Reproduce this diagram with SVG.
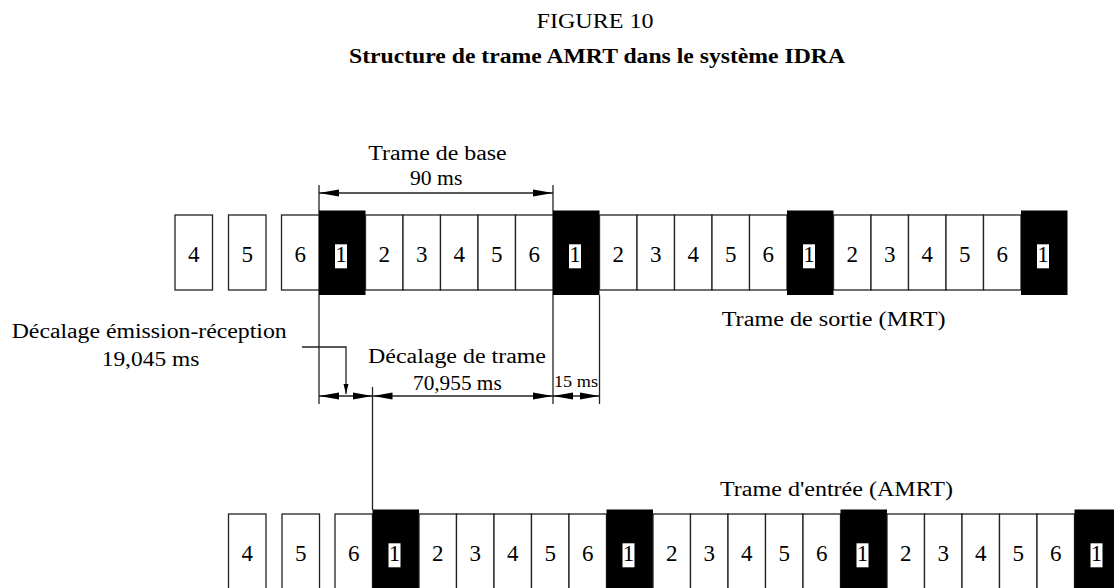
<svg xmlns="http://www.w3.org/2000/svg" width="1114" height="588" viewBox="0 0 1114 588">
  <style>
    .cell { fill: #fff; stroke: #222; stroke-width: 1.3; }
    .slot { fill: #000; }
    .tag { fill: #fff; }
    .num { font-family: "Liberation Serif", "Times New Roman", serif; font-size: 23px; text-anchor: middle; fill: #000; }
    .txt { font-family: "Liberation Serif", "Times New Roman", serif; font-size: 20px; fill: #000; }
    .small { font-size: 16px; }
    .bold { font-weight: bold; }
    .ln { stroke: #222; stroke-width: 1.3; fill: none; }
  </style>
  <defs>
    <marker id="ah" markerUnits="userSpaceOnUse" viewBox="0 0 20 8" markerWidth="20" markerHeight="8" refX="20" refY="4" orient="auto-start-reverse">
      <path d="M0,0.5 L20,4 L0,7.5 z" fill="#000"/>
    </marker>
    <marker id="ahs" markerUnits="userSpaceOnUse" viewBox="0 0 10 6" markerWidth="10" markerHeight="6" refX="10" refY="3" orient="auto">
      <path d="M0,0.5 L10,3 L0,5.5 z" fill="#000"/>
    </marker>
  </defs>
  <rect width="1114" height="588" fill="#fff"/>

  <!-- headings -->
  <text class="txt" x="536.5" y="28" textLength="117" lengthAdjust="spacingAndGlyphs">FIGURE 10</text>
  <text class="txt bold" x="349" y="63" textLength="496" lengthAdjust="spacingAndGlyphs">Structure de trame AMRT dans le système IDRA</text>

  <!-- dimension and reference lines -->
  <g id="connectors">
    <line class="ln" x1="319" y1="185" x2="319" y2="404"/>
    <line class="ln" x1="553" y1="185" x2="553" y2="404"/>
    <line class="ln" x1="599.5" y1="295" x2="599.5" y2="404"/>
    <line class="ln" x1="319" y1="193" x2="553" y2="193" marker-start="url(#ah)" marker-end="url(#ah)"/>
    <line class="ln" x1="319" y1="396" x2="372.5" y2="396" marker-start="url(#ah)" marker-end="url(#ah)"/>
    <line class="ln" x1="372.5" y1="396" x2="553" y2="396" marker-start="url(#ah)" marker-end="url(#ah)"/>
    <line class="ln" x1="553" y1="396" x2="599.5" y2="396" marker-start="url(#ah)" marker-end="url(#ah)"/>
    <polyline class="ln" points="302,347 346,347 346,394" marker-end="url(#ahs)"/>
    <line class="ln" x1="372.5" y1="387" x2="372.5" y2="510"/>
  </g>

  <!-- dimension labels -->
  <text class="txt" x="368.3" y="160" textLength="138.4" lengthAdjust="spacingAndGlyphs">Trame de base</text>
  <text class="txt" x="410" y="185" textLength="52.3" lengthAdjust="spacingAndGlyphs">90 ms</text>
  <text class="txt" x="11.7" y="338" textLength="275" lengthAdjust="spacingAndGlyphs">Décalage émission-réception</text>
  <text class="txt" x="101.7" y="366" textLength="97.6" lengthAdjust="spacingAndGlyphs">19,045 ms</text>
  <text class="txt" x="368" y="363" textLength="178" lengthAdjust="spacingAndGlyphs">Décalage de trame</text>
  <text class="txt" x="413" y="390" textLength="88.7" lengthAdjust="spacingAndGlyphs">70,955 ms</text>
  <text class="txt small" x="554" y="386.7" textLength="44" lengthAdjust="spacingAndGlyphs">15 ms</text>
  <text class="txt" x="721.7" y="326" textLength="224" lengthAdjust="spacingAndGlyphs">Trame de sortie (MRT)</text>
  <text class="txt" x="720" y="496" textLength="233" lengthAdjust="spacingAndGlyphs">Trame d'entrée (AMRT)</text>

  <!-- output frame (MRT) -->
  <g id="out-frame">
    <g id="out-a4"><rect class="cell" x="175" y="215" width="37.5" height="75"/><text class="num" x="193.75" y="262">4</text></g>
    <g id="out-a5"><rect class="cell" x="228.5" y="215" width="37.5" height="75"/><text class="num" x="247.25" y="262">5</text></g>
    <g id="out-a6"><rect class="cell" x="281.5" y="215" width="37.5" height="75"/><text class="num" x="300.25" y="262">6</text></g>

    <g id="out-b1"><rect class="slot" x="319" y="210.5" width="46.5" height="84.5"/><rect class="tag" x="335" y="244.3" width="12" height="24"/><text class="num" x="341" y="262">1</text></g>
    <g id="out-b2"><rect class="cell" x="365.5" y="215" width="37.5" height="75"/><text class="num" x="384.25" y="262">2</text></g>
    <g id="out-b3"><rect class="cell" x="403" y="215" width="37.5" height="75"/><text class="num" x="421.75" y="262">3</text></g>
    <g id="out-b4"><rect class="cell" x="440.5" y="215" width="37.5" height="75"/><text class="num" x="459.25" y="262">4</text></g>
    <g id="out-b5"><rect class="cell" x="478" y="215" width="37.5" height="75"/><text class="num" x="496.75" y="262">5</text></g>
    <g id="out-b6"><rect class="cell" x="515.5" y="215" width="37.5" height="75"/><text class="num" x="534.25" y="262">6</text></g>

    <g id="out-c1"><rect class="slot" x="553" y="210.5" width="46.5" height="84.5"/><rect class="tag" x="569" y="244.3" width="12" height="24"/><text class="num" x="575" y="262">1</text></g>
    <g id="out-c2"><rect class="cell" x="599.5" y="215" width="37.5" height="75"/><text class="num" x="618.25" y="262">2</text></g>
    <g id="out-c3"><rect class="cell" x="637" y="215" width="37.5" height="75"/><text class="num" x="655.75" y="262">3</text></g>
    <g id="out-c4"><rect class="cell" x="674.5" y="215" width="37.5" height="75"/><text class="num" x="693.25" y="262">4</text></g>
    <g id="out-c5"><rect class="cell" x="712" y="215" width="37.5" height="75"/><text class="num" x="730.75" y="262">5</text></g>
    <g id="out-c6"><rect class="cell" x="749.5" y="215" width="37.5" height="75"/><text class="num" x="768.25" y="262">6</text></g>

    <g id="out-d1"><rect class="slot" x="787" y="210.5" width="46.5" height="84.5"/><rect class="tag" x="803" y="244.3" width="12" height="24"/><text class="num" x="809" y="262">1</text></g>
    <g id="out-d2"><rect class="cell" x="833.5" y="215" width="37.5" height="75"/><text class="num" x="852.25" y="262">2</text></g>
    <g id="out-d3"><rect class="cell" x="871" y="215" width="37.5" height="75"/><text class="num" x="889.75" y="262">3</text></g>
    <g id="out-d4"><rect class="cell" x="908.5" y="215" width="37.5" height="75"/><text class="num" x="927.25" y="262">4</text></g>
    <g id="out-d5"><rect class="cell" x="946" y="215" width="37.5" height="75"/><text class="num" x="964.75" y="262">5</text></g>
    <g id="out-d6"><rect class="cell" x="983.5" y="215" width="37.5" height="75"/><text class="num" x="1002.25" y="262">6</text></g>

    <g id="out-e1"><rect class="slot" x="1021" y="210.5" width="46.5" height="84.5"/><rect class="tag" x="1037" y="244.3" width="12" height="24"/><text class="num" x="1043" y="262">1</text></g>
  </g>

  <!-- input frame (AMRT) -->
  <g id="in-frame">
    <g id="in-a4"><rect class="cell" x="228.5" y="514" width="37.5" height="80"/><text class="num" x="247.25" y="561">4</text></g>
    <g id="in-a5"><rect class="cell" x="282" y="514" width="37.5" height="80"/><text class="num" x="300.75" y="561">5</text></g>
    <g id="in-a6"><rect class="cell" x="335" y="514" width="37.5" height="80"/><text class="num" x="353.75" y="561">6</text></g>

    <g id="in-b1"><rect class="slot" x="372.5" y="509.5" width="46.5" height="85"/><rect class="tag" x="388.5" y="543.3" width="12" height="24"/><text class="num" x="394.5" y="561">1</text></g>
    <g id="in-b2"><rect class="cell" x="419" y="514" width="37.5" height="80"/><text class="num" x="437.75" y="561">2</text></g>
    <g id="in-b3"><rect class="cell" x="456.5" y="514" width="37.5" height="80"/><text class="num" x="475.25" y="561">3</text></g>
    <g id="in-b4"><rect class="cell" x="494" y="514" width="37.5" height="80"/><text class="num" x="512.75" y="561">4</text></g>
    <g id="in-b5"><rect class="cell" x="531.5" y="514" width="37.5" height="80"/><text class="num" x="550.25" y="561">5</text></g>
    <g id="in-b6"><rect class="cell" x="569" y="514" width="37.5" height="80"/><text class="num" x="587.75" y="561">6</text></g>

    <g id="in-c1"><rect class="slot" x="606.5" y="509.5" width="46.5" height="85"/><rect class="tag" x="622.5" y="543.3" width="12" height="24"/><text class="num" x="628.5" y="561">1</text></g>
    <g id="in-c2"><rect class="cell" x="653" y="514" width="37.5" height="80"/><text class="num" x="671.75" y="561">2</text></g>
    <g id="in-c3"><rect class="cell" x="690.5" y="514" width="37.5" height="80"/><text class="num" x="709.25" y="561">3</text></g>
    <g id="in-c4"><rect class="cell" x="728" y="514" width="37.5" height="80"/><text class="num" x="746.75" y="561">4</text></g>
    <g id="in-c5"><rect class="cell" x="765.5" y="514" width="37.5" height="80"/><text class="num" x="784.25" y="561">5</text></g>
    <g id="in-c6"><rect class="cell" x="803" y="514" width="37.5" height="80"/><text class="num" x="821.75" y="561">6</text></g>

    <g id="in-d1"><rect class="slot" x="840.5" y="509.5" width="46.5" height="85"/><rect class="tag" x="856.5" y="543.3" width="12" height="24"/><text class="num" x="862.5" y="561">1</text></g>
    <g id="in-d2"><rect class="cell" x="887" y="514" width="37.5" height="80"/><text class="num" x="905.75" y="561">2</text></g>
    <g id="in-d3"><rect class="cell" x="924.5" y="514" width="37.5" height="80"/><text class="num" x="943.25" y="561">3</text></g>
    <g id="in-d4"><rect class="cell" x="962" y="514" width="37.5" height="80"/><text class="num" x="980.75" y="561">4</text></g>
    <g id="in-d5"><rect class="cell" x="999.5" y="514" width="37.5" height="80"/><text class="num" x="1018.25" y="561">5</text></g>
    <g id="in-d6"><rect class="cell" x="1037" y="514" width="37.5" height="80"/><text class="num" x="1055.75" y="561">6</text></g>

    <g id="in-e1"><rect class="slot" x="1074.5" y="509.5" width="46.5" height="85"/><rect class="tag" x="1090.5" y="543.3" width="12" height="24"/><text class="num" x="1096.5" y="561">1</text></g>
  </g>
</svg>
